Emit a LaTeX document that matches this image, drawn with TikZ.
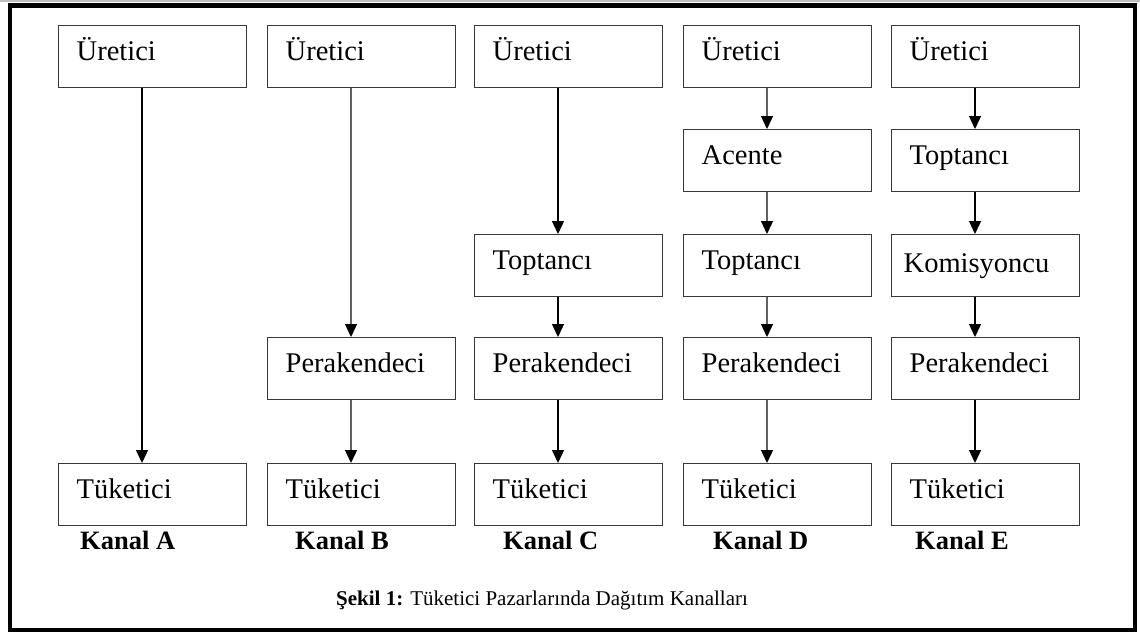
\documentclass[tikz,border=0pt]{standalone}
\usepackage{fontspec}
\setmainfont{Liberation Serif}
\usetikzlibrary{arrows.meta}

\begin{document}
\begin{tikzpicture}[x=1pt,y=-1pt,
  box/.style={draw=black!78, line width=1.4pt, anchor=north west,
    rectangle, text width=152pt, inner xsep=18pt, inner ysep=0pt,
    text height=35pt, text depth=27pt, align=left,
    font=\fontsize{28.5}{31}\selectfont},
  flow/.style={line width=1.3pt, black,
    -{Triangle[length=13pt,width=12pt,black]}},
  softflow/.style={flow, draw=black!62},
  kanal/.style={anchor=base west, inner sep=0pt,
    font=\fontsize{26.5}{29}\selectfont\bfseries},
  caption/.style={anchor=base west, inner sep=0pt,
    font=\fontsize{21}{24}\selectfont}
]
\useasboundingbox (0,0) rectangle (1140,633);
\fill[white] (0,0) rectangle (1140,633);

% outer frame
\draw[black!25, line width=2pt] (0,1.2) -- (1140,1.2);
\draw[black, line width=4.5pt] (10,5.5) rectangle (1135,630);

% Kanal A
\node[box] (a1) at (58,25)  {Üretici};
\node[box] (a5) at (58,463) {Tüketici};
\draw[flow] ([xshift=84pt]a1.south west) -- ([xshift=84pt]a5.north west);

% Kanal B
\node[box] (b1) at (267,25)  {Üretici};
\node[box] (b4) at (267,337) {Perakendeci};
\node[box] (b5) at (267,463) {Tüketici};
\draw[softflow] ([xshift=84pt]b1.south west) -- ([xshift=84pt]b4.north west);
\draw[softflow] ([xshift=84pt]b4.south west) -- ([xshift=84pt]b5.north west);

% Kanal C
\node[box] (c1) at (474,25)  {Üretici};
\node[box] (c3) at (474,234) {Toptancı};
\node[box] (c4) at (474,337) {Perakendeci};
\node[box] (c5) at (474,463) {Tüketici};
\draw[flow] ([xshift=84pt]c1.south west) -- ([xshift=84pt]c3.north west);
\draw[flow] ([xshift=84pt]c3.south west) -- ([xshift=84pt]c4.north west);
\draw[flow] ([xshift=84pt]c4.south west) -- ([xshift=84pt]c5.north west);

% Kanal D
\node[box] (d1) at (683,25)  {Üretici};
\node[box] (d2) at (683,129) {Acente};
\node[box] (d3) at (683,234) {Toptancı};
\node[box] (d4) at (683,337) {Perakendeci};
\node[box] (d5) at (683,463) {Tüketici};
\draw[softflow] ([xshift=84pt]d1.south west) -- ([xshift=84pt]d2.north west);
\draw[softflow] ([xshift=84pt]d2.south west) -- ([xshift=84pt]d3.north west);
\draw[softflow] ([xshift=84pt]d3.south west) -- ([xshift=84pt]d4.north west);
\draw[softflow] ([xshift=84pt]d4.south west) -- ([xshift=84pt]d5.north west);

% Kanal E
\node[box] (e1) at (891,25)  {Üretici};
\node[box] (e2) at (891,129) {Toptancı};
\node[box, inner xsep=12pt, text width=164pt, text height=38pt, text depth=24pt] (e3) at (891,234) {Komisyoncu};
\node[box] (e4) at (891,337) {Perakendeci};
\node[box] (e5) at (891,463) {Tüketici};
\draw[flow] ([xshift=84pt]e1.south west) -- ([xshift=84pt]e2.north west);
\draw[flow] ([xshift=84pt]e2.south west) -- ([xshift=84pt]e3.north west);
\draw[flow] ([xshift=84pt]e3.south west) -- ([xshift=84pt]e4.north west);
\draw[flow] ([xshift=84pt]e4.south west) -- ([xshift=84pt]e5.north west);

% channel labels
\node[kanal] (ka) at (80,549)  {Kanal A};
\node[kanal] (kb) at (295,549) {Kanal B};
\node[kanal] (kc) at (503,549) {Kanal C};
\node[kanal] (kd) at (713,549) {Kanal D};
\node[kanal] (ke) at (915,549) {Kanal E};

% figure caption
\node[caption] (cap) at (336,605) {\textbf{Şekil 1:} Tüketici Pazarlarında Dağıtım Kanalları};
\end{tikzpicture}
\end{document}
